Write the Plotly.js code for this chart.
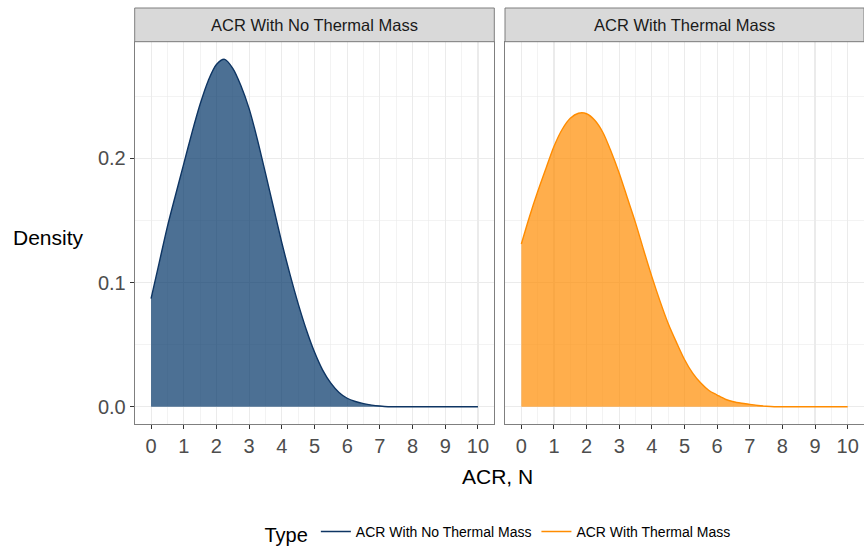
<!DOCTYPE html>
<html>
<head>
<meta charset="utf-8">
<script src="https://cdn.plot.ly/plotly-3.0.1.min.js"></script>
<style>
  html, body { margin: 0; padding: 0; background: #ffffff; }
  #chart { width: 864px; height: 546px; }
</style>
</head>
<body>
<div id="chart"></div>
<script>
// ACR values (x) shared by both panels
const acrValues = [0, 0.25, 0.5, 0.75, 1, 1.25, 1.5, 1.75, 2, 2.25, 2.5, 2.75, 3, 3.25, 3.5, 3.75,
  4, 4.25, 4.5, 4.75, 5, 5.25, 5.5, 5.75, 6, 6.25, 6.5, 6.75, 7, 7.25, 7.5, 7.75,
  8, 8.25, 8.5, 8.75, 9, 9.25, 9.5, 9.75, 10];

// Density: ACR With No Thermal Mass
const densityNoThermal = [0.087, 0.116, 0.145, 0.1705, 0.1955, 0.2205, 0.2435, 0.2625, 0.2755, 0.2797, 0.2725, 0.2585,
  0.240, 0.2155, 0.188, 0.160, 0.132, 0.1065, 0.083, 0.062, 0.044, 0.0295, 0.019, 0.0115,
  0.0068, 0.0042, 0.0025, 0.0013, 0.0005, 0, 0, 0,
  0, 0, 0, 0, 0, 0, 0, 0, 0];

// Density: ACR With Thermal Mass
const densityThermal = [0.131, 0.153, 0.173, 0.1915, 0.2095, 0.2232, 0.2322, 0.2363, 0.2359, 0.2306, 0.2208, 0.2055,
  0.188, 0.168, 0.148, 0.126, 0.1047, 0.085, 0.067, 0.052, 0.038, 0.027, 0.019, 0.013,
  0.0094, 0.006, 0.004, 0.0028, 0.0019, 0.001, 0.0004, 0,
  0, 0, 0, 0, 0, 0, 0, 0, 0];

const panelTitles = ['ACR With No Thermal Mass', 'ACR With Thermal Mass'];
const typeLabels = ['ACR With No Thermal Mass', 'ACR With Thermal Mass'];
const xTicks = [0, 1, 2, 3, 4, 5, 6, 7, 8, 9, 10];
const yTicks = [0, 0.1, 0.2];
const yTickText = ['0.0', '0.1', '0.2'];

const navyLine = '#0e3563';
const navyFill = 'rgba(0,51,102,0.7)';
const orangeLine = '#ff8c00';
const orangeFill = 'rgba(255,140,0,0.7)';

const W = 864, H = 546;
const px = v => v / W;
const py = v => 1 - v / H;

const traces = [
  { x: acrValues, y: densityNoThermal, type: 'scatter', mode: 'lines', fill: 'tozeroy',
    fillcolor: navyFill, line: { color: navyLine, width: 1.4, shape: 'spline', smoothing: 0.8 },
    xaxis: 'x', yaxis: 'y', showlegend: false },
  { x: acrValues, y: densityThermal, type: 'scatter', mode: 'lines', fill: 'tozeroy',
    fillcolor: orangeFill, line: { color: orangeLine, width: 1.4, shape: 'spline', smoothing: 0.8 },
    xaxis: 'x2', yaxis: 'y2', showlegend: false },
  { x: [null], y: [null], type: 'scatter', mode: 'lines', name: typeLabels[0],
    line: { color: navyLine, width: 1.5 }, xaxis: 'x', yaxis: 'y', showlegend: true },
  { x: [null], y: [null], type: 'scatter', mode: 'lines', name: typeLabels[1],
    line: { color: orangeLine, width: 1.5 }, xaxis: 'x', yaxis: 'y', showlegend: true }
];

const xLeft = [134.7, 494.3];
const xRight = [505, 864];
const yTop = 41.7, yBot = 423.7;
const gridC = '#ebebeb';
const tickFont = { family: 'Liberation Sans, Arial, sans-serif', size: 20, color: '#4d4d4d' };

function xAxis(dom, anchor) {
  return {
    domain: [px(dom[0]), px(dom[1])], anchor: anchor, range: [-0.5, 10.5],
    tickmode: 'array', tickvals: xTicks, ticks: 'outside', ticklen: 4, tickwidth: 1, tickcolor: '#333333',
    tickfont: tickFont, showgrid: true, gridcolor: gridC, gridwidth: 1.1,
    minor: { dtick: 0.5, tick0: 0, showgrid: true, gridcolor: gridC, gridwidth: 0.6, ticks: '' },
    zeroline: false, showline: true, mirror: true, linecolor: '#7f7f7f', linewidth: 1,
    automargin: false, fixedrange: true
  };
}
function yAxis(anchor, labels) {
  return {
    domain: [py(yBot), py(yTop)], anchor: anchor, range: [-0.0137, 0.2939],
    tickmode: 'array', tickvals: yTicks, ticktext: yTickText,
    ticks: labels ? 'outside' : '', ticklen: 4, tickwidth: 1, tickcolor: '#333333',
    showticklabels: labels, tickfont: tickFont, showgrid: true, gridcolor: gridC, gridwidth: 1.1,
    minor: { dtick: 0.05, tick0: 0, showgrid: true, gridcolor: gridC, gridwidth: 0.6, ticks: '' },
    zeroline: false, showline: true, mirror: true, linecolor: '#7f7f7f', linewidth: 1,
    automargin: false, fixedrange: true
  };
}

const stripTop = 8;
const shapes = [xLeft, xRight].map(d => ({
  type: 'rect', xref: 'paper', yref: 'paper', x0: px(d[0]), x1: px(d[1]), y0: py(yTop), y1: py(stripTop),
  fillcolor: '#d9d9d9', line: { color: '#7f7f7f', width: 1 }, layer: 'above'
}));

const stripFont = { family: 'Liberation Sans, Arial, sans-serif', size: 16.5, color: '#1a1a1a' };
const annotations = [
  { text: panelTitles[0], xref: 'paper', yref: 'paper', x: px((xLeft[0] + xLeft[1]) / 2), y: py((stripTop + yTop) / 2),
    xanchor: 'center', yanchor: 'middle', showarrow: false, font: stripFont },
  { text: panelTitles[1], xref: 'paper', yref: 'paper', x: px((xRight[0] + xRight[1]) / 2), y: py((stripTop + yTop) / 2),
    xanchor: 'center', yanchor: 'middle', showarrow: false, font: stripFont },
  { text: 'Density', xref: 'paper', yref: 'paper', x: px(48), y: py(237), xanchor: 'center', yanchor: 'middle',
    showarrow: false, font: { family: 'Liberation Sans, Arial, sans-serif', size: 21, color: '#000000' } },
  { text: 'ACR, N', xref: 'paper', yref: 'paper', x: px(498), y: py(476), xanchor: 'center', yanchor: 'middle',
    showarrow: false, font: { family: 'Liberation Sans, Arial, sans-serif', size: 21, color: '#000000' } }
];

const layout = {
  width: W, height: H,
  margin: { l: 0, r: 0, t: 0, b: 0, pad: 0, autoexpand: false },
  paper_bgcolor: '#ffffff', plot_bgcolor: '#ffffff',
  font: { family: 'Liberation Sans, Arial, sans-serif', color: '#000000' },
  xaxis: xAxis(xLeft, 'y'),
  yaxis: yAxis('x', true),
  xaxis2: xAxis(xRight, 'y2'),
  yaxis2: Object.assign(yAxis('x2', false), { matches: 'y' }),
  shapes: shapes,
  annotations: annotations,
  showlegend: true,
  legend: {
    orientation: 'h', x: px(499), xanchor: 'center', y: py(534), yanchor: 'middle',
    title: { text: 'Type', side: 'left', font: { size: 20, color: '#000000' } },
    font: { size: 14, color: '#000000' }, itemwidth: 30, bgcolor: 'rgba(0,0,0,0)'
  },
  hovermode: false
};

Plotly.newPlot('chart', traces, layout, { staticPlot: true, displayModeBar: false });
</script>
</body>
</html>
